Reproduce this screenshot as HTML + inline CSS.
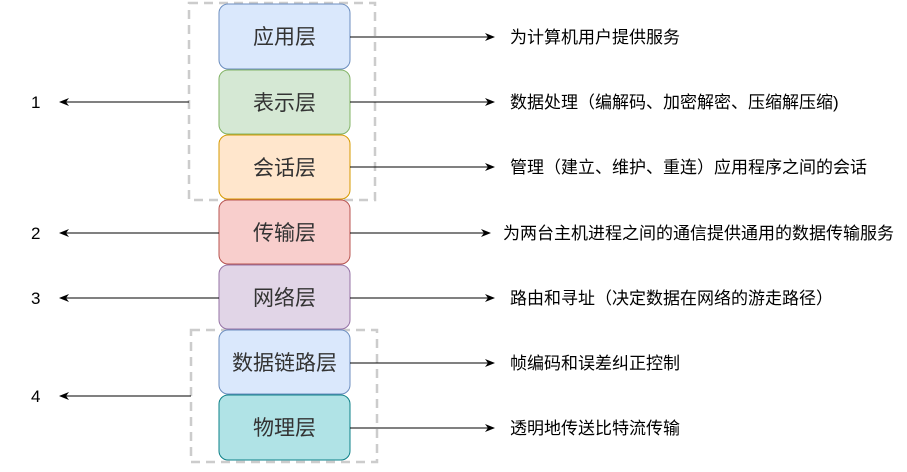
<!DOCTYPE html>
<html><head><meta charset="utf-8"><style>
body{margin:0;background:#fff;}
svg text{font-family:"Liberation Sans","Noto Sans CJK SC",sans-serif;}
</style></head><body>
<svg width="907" height="467" viewBox="0 0 907 467" xmlns="http://www.w3.org/2000/svg">
<defs><marker id="a" markerWidth="10" markerHeight="8" refX="9" refY="4" orient="auto" markerUnits="userSpaceOnUse"><path d="M0,0 L10,4 L0,8 L3,4 Z" fill="#000"/></marker></defs>
<rect x="189" y="3" width="186" height="197" fill="none" stroke="#ccc" stroke-width="2.5" stroke-dasharray="9,6"/>
<rect x="191" y="330" width="186" height="132" fill="none" stroke="#ccc" stroke-width="2.5" stroke-dasharray="9,6"/>
<g stroke-width="1">
<rect x="219" y="4" width="131" height="65" rx="9" fill="#dae8fc" stroke="#6c8ebf"/>
<rect x="219" y="70" width="131" height="64" rx="9" fill="#d5e8d4" stroke="#82b366"/>
<rect x="219" y="135" width="131" height="64" rx="9" fill="#ffe6cc" stroke="#d79b00"/>
<rect x="219" y="200" width="131" height="64" rx="9" fill="#f8cecc" stroke="#b85450"/>
<rect x="219" y="265" width="131" height="64" rx="9" fill="#e1d5e7" stroke="#9673a6"/>
<rect x="219" y="330" width="131" height="64" rx="9" fill="#dae8fc" stroke="#6c8ebf"/>
<rect x="219" y="395" width="131" height="65" rx="9" fill="#b0e3e6" stroke="#0e8088"/>
</g>
<g font-size="21" fill="#333" text-anchor="middle">
<text x="284.5" y="44">应用层</text>
<text x="284.5" y="110">表示层</text>
<text x="284.5" y="175">会话层</text>
<text x="284.5" y="240">传输层</text>
<text x="284.5" y="305">网络层</text>
<text x="284.5" y="370">数据链路层</text>
<text x="284.5" y="435">物理层</text>
</g>
<g stroke="#000" stroke-width="1" marker-end="url(#a)">
<line x1="350" y1="37" x2="494" y2="37"/>
<line x1="350" y1="102" x2="494" y2="102"/>
<line x1="350" y1="167" x2="494" y2="167"/>
<line x1="350" y1="233" x2="490" y2="233"/>
<line x1="350" y1="298" x2="494" y2="298"/>
<line x1="350" y1="363" x2="494" y2="363"/>
<line x1="350" y1="428" x2="494" y2="428"/>
<line x1="189" y1="102" x2="60" y2="102"/>
<line x1="219" y1="233" x2="60" y2="233"/>
<line x1="219" y1="298" x2="60" y2="298"/>
<line x1="191" y1="396" x2="60" y2="396"/>
</g>
<g font-size="17" fill="#000">
<text x="510" y="43">为计算机用户提供服务</text>
<text x="510" y="108">数据处理（编解码、加密解密、压缩解压缩)</text>
<text x="510" y="173">管理（建立、维护、重连）应用程序之间的会话</text>
<text x="503" y="239">为两台主机进程之间的通信提供通用的数据传输服务</text>
<text x="510" y="304">路由和寻址（决定数据在网络的游走路径）</text>
<text x="510" y="369">帧编码和误差纠正控制</text>
<text x="510" y="434">透明地传送比特流传输</text>
</g>
<g font-size="17" fill="#000">
<text x="31" y="108">1</text>
<text x="31" y="239">2</text>
<text x="31" y="304">3</text>
<text x="31" y="402">4</text>
</g>
</svg>
</body></html>
